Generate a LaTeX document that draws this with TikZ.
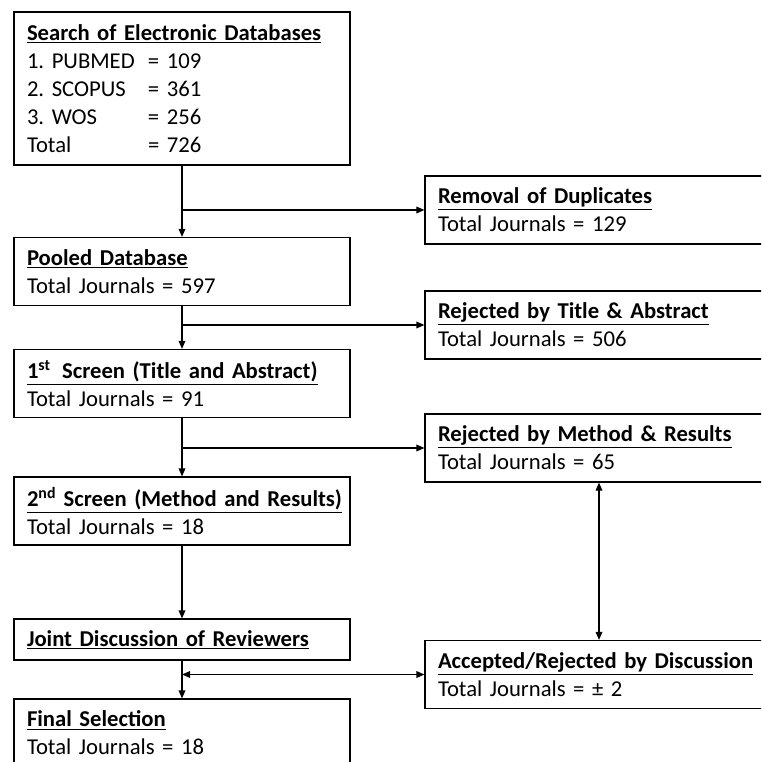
\documentclass[tikz,border=0pt]{standalone}
\usepackage{fontspec}
\setmainfont{Carlito}
\usetikzlibrary{arrows.meta}

\newcommand{\dbrow}[2]{\makebox[90.75pt][l]{#1}= #2}
\newcommand{\head}[1]{\underline{\textbf{#1}}}

\begin{document}
\frenchspacing
\begin{tikzpicture}[x=0.75pt, y=-0.75pt,
    box/.style={draw, line width=0.9pt, align=left, inner xsep=9.75pt, inner ysep=0pt,
      text width=232.5pt, minimum height=51pt, font=\fontsize{17}{21}\selectfont},
    side/.style={box, text width=241.5pt},
    flow/.style={line width=0.9pt, -{Triangle[length=6pt,width=5pt]}},
    twoway/.style={line width=0.9pt, {Triangle[length=6pt,width=5pt]}-{Triangle[length=6pt,width=5pt]}}]
    \useasboundingbox (0,0) rectangle (761,762);
    \clip (0,0) rectangle (761,762);

    \node[box, minimum height=114.75pt] (search) at (182,88.5)
      {\head{Search of Electronic Databases}\\ \dbrow{1. PUBMED}{109}\\ \dbrow{2. SCOPUS}{361}\\
       \dbrow{3. WOS}{256}\\ \dbrow{Total}{726}};
    \node[box] (pooled) at (182,271.5) {\head{Pooled Database}\\ Total Journals = 597};
    \node[box] (screen1) at (182,383.5) {\head{1\textsuperscript{st}\, Screen (Title and Abstract)}\\ Total Journals = 91};
    \node[box] (screen2) at (182,511) {\head{2\textsuperscript{nd} Screen (Method and Results)}\\ Total Journals = 18};
    \node[box, minimum height=30.75pt] (joint) at (182,639.5) {\head{Joint Discussion of Reviewers}};
    \node[box] (final) at (182,733) {\head{Final Selection}\\ Total Journals = 18};

    \node[side] (dup) at (599,210) {\head{Removal of Duplicates}\\ Total Journals = 129};
    \node[side] (titlerej) at (599,325) {\head{Rejected by Title \& Abstract}\\ Total Journals = 506};
    \node[side] (methrej) at (599,448) {\head{Rejected by Method \& Results}\\ Total Journals = 65};
    \node[side] (accepted) at (599,674.5) {\head{Accepted/Rejected by Discussion}\\ Total Journals = ± 2};

    \draw[flow] (search) -- (pooled);
    \draw[flow] (pooled) -- (screen1);
    \draw[flow] (screen1) -- (screen2);
    \draw[flow] (screen2) -- (joint);
    \draw[flow] (joint) -- (final);

    \draw[flow] (search.south |- dup.west) -- (dup.west);
    \draw[flow] (pooled.south |- titlerej.west) -- (titlerej.west);
    \draw[flow] (screen1.south |- methrej.west) -- (methrej.west);
    \draw[twoway] (joint.south |- accepted.west) -- (accepted.west);
    \draw[twoway] (methrej) -- (accepted);
\end{tikzpicture}
\end{document}
